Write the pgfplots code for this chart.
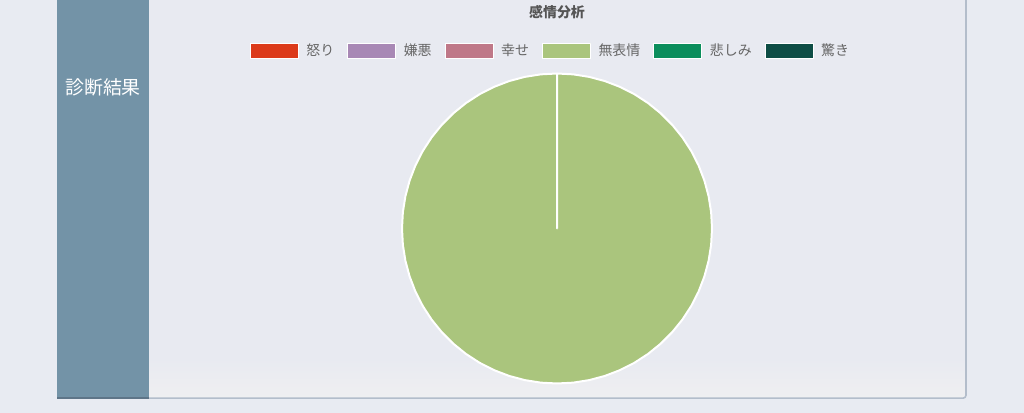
\documentclass[border=0pt]{standalone}
\usepackage{fontspec}
\usepackage{pgfplots}
\pgfplotsset{compat=1.18}
\newfontfamily\jp{Noto Sans CJK JP}

\definecolor{pagebg}{HTML}{E8EBF2}
\definecolor{cardbg}{HTML}{E8EAF1}
\definecolor{cardbot}{HTML}{EFEFF1}
\definecolor{cardline}{HTML}{B3BDCB}
\definecolor{panel}{HTML}{7393A7}
\definecolor{panelline}{HTML}{5E7588}
\definecolor{titlegray}{HTML}{555555}
\definecolor{legendgray}{HTML}{666666}
% slice colours
\definecolor{c1}{HTML}{DC3A1A}
\definecolor{c2}{HTML}{A888B5}
\definecolor{c3}{HTML}{BF7888}
\definecolor{c4}{HTML}{AAC57D}
\definecolor{c5}{HTML}{0B8E5C}
\definecolor{c6}{HTML}{0E4D45}

\begin{document}
\begin{tikzpicture}
\path[use as bounding box] (0bp,0bp) rectangle (1024bp,413bp);
\fill[pagebg] (0bp,0bp) rectangle (1024bp,413bp);

%% card
\fill[cardbg] (57bp,15bp) rectangle (966bp,420bp);
\shade[top color=cardbg, bottom color=cardbot] (149bp,15bp) rectangle (966bp,55bp);
\draw[cardline, rounded corners=3bp, line width=1.6bp] (57bp,14.8bp) -| (966bp,420bp);
\fill[panel] (57bp,14bp) rectangle (149bp,420bp);
\draw[panelline, line width=1.6bp] (57bp,14.8bp) -- (149bp,14.8bp);
\node[text=white, font=\jp\fontsize{19}{21}\selectfont] at (103bp,326bp) {診断結果};
\node[text=titlegray, font=\jp\bfseries\fontsize{14}{16}\selectfont] at (557bp,401bp) {感情分析};

%% pie
\begin{axis}[
  x=155bp, y=155bp,
  xmin=-1, xmax=1, ymin=-1, ymax=1,
  hide axis, clip=false,
  at={(557bp,184.5bp)}, anchor=center,
  data cs=polar,
  legend columns=6,
  legend image code/.code={\draw[#1, draw=white, line width=1bp] (0bp,-7.5bp) rectangle (48bp,7.5bp);},
  legend style={at={(axis description cs:0.479,1.074)}, anchor=center,
    draw=none, fill=none, inner sep=0pt,
    font=\jp\fontsize{14}{16}\selectfont, text=legendgray,
    /tikz/every odd column/.append style={column sep=5.5bp},
    /tikz/every even column/.append style={column sep=11bp}},
  every axis plot/.append style={draw=white, line width=2bp, line join=round},
]
% (angle, radius): zero shares are a single edge at 90 deg
\addplot[fill=c1] coordinates {(90,0) (90,1)};
\addlegendentry{怒り}
\addplot[fill=c2] coordinates {(90,0) (90,1)};
\addlegendentry{嫌悪}
\addplot[fill=c3] coordinates {(90,0) (90,1)};
\addlegendentry{幸せ}
% 100 percent: full turn clockwise from the top
\addplot[fill=c4] coordinates {
 (90,0) (90,1) (84,1) (78,1) (72,1) (66,1) (60,1) (54,1) (48,1) (42,1) (36,1)
 (30,1) (24,1) (18,1) (12,1) (6,1) (0,1) (-6,1) (-12,1) (-18,1) (-24,1)
 (-30,1) (-36,1) (-42,1) (-48,1) (-54,1) (-60,1) (-66,1) (-72,1) (-78,1) (-84,1)
 (-90,1) (-96,1) (-102,1) (-108,1) (-114,1) (-120,1) (-126,1) (-132,1) (-138,1) (-144,1)
 (-150,1) (-156,1) (-162,1) (-168,1) (-174,1) (-180,1) (-186,1) (-192,1) (-198,1) (-204,1)
 (-210,1) (-216,1) (-222,1) (-228,1) (-234,1) (-240,1) (-246,1) (-252,1) (-258,1) (-264,1)
 (-270,1)} -- cycle;
\addlegendentry{無表情}
\addplot[fill=c5] coordinates {(-270,0) (-270,1)};
\addlegendentry{悲しみ}
\addplot[fill=c6] coordinates {(-270,0) (-270,1)};
\addlegendentry{驚き}
\end{axis}
\end{tikzpicture}
\end{document}
